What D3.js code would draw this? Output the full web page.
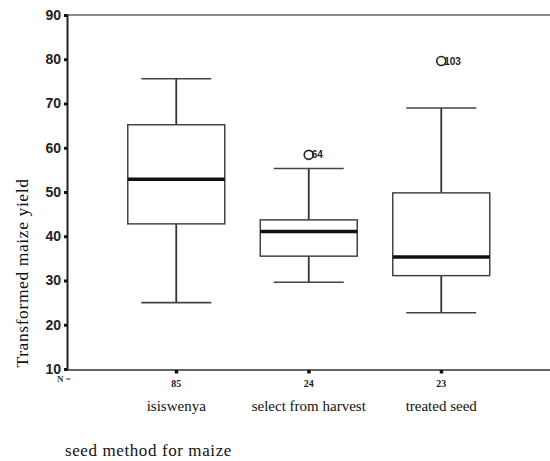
<!DOCTYPE html>
<html><head><meta charset="utf-8">
<script src="https://cdn.jsdelivr.net/npm/d3@7"></script>
<style>body{margin:0;background:#fff}svg{display:block}</style>
</head><body>
<svg id="c" width="550" height="461"></svg>
<script>
const categories = ["isiswenya", "select from harvest", "treated seed"];
const nValues = ["85", "24", "23"];
const whiskerLow = [25.0, 29.6, 22.7];
const q1 = [42.8, 35.5, 31.1];
const median = [52.9, 41.1, 35.3];
const q3 = [65.2, 43.7, 49.8];
const whiskerHigh = [75.6, 55.3, 69.0];
const outliers = [{cat: "select from harvest", value: 58.4, label: "64"},
                  {cat: "treated seed", value: 79.6, label: "103"}];
const yTicks = [10, 20, 30, 40, 50, 60, 70, 80, 90];

const SERIF = "'Liberation Serif', 'Times New Roman', 'DejaVu Serif', serif";
const SANS = "'Liberation Sans', Arial, sans-serif";

const svg = d3.select("#c");
const y = d3.scaleLinear().domain([10, 90]).range([369, 15]);
const x = d3.scaleBand().domain(categories).range([110, 507.5]).padding(0);
const bw = x.bandwidth();
const cx = c => x(c) + bw / 2;

// frame lines
svg.append("line").attr("x1", 67).attr("x2", 550).attr("y1", y(90)).attr("y2", y(90))
  .attr("stroke", "#666").attr("stroke-width", 1.5);
svg.append("line").attr("x1", 67).attr("x2", 550).attr("y1", y(10) + 1).attr("y2", y(10) + 1)
  .attr("stroke", "#333").attr("stroke-width", 1.5);

// y axis
const yAxis = svg.append("g").attr("transform", "translate(67,0)")
  .call(d3.axisLeft(y).tickValues(yTicks).tickSize(3).tickPadding(3));
yAxis.select(".domain").attr("stroke", "#222").attr("stroke-width", 2);
yAxis.selectAll(".tick line").attr("stroke", "#111").attr("stroke-width", 3);
yAxis.selectAll(".tick text").style("font-family", SANS)
  .style("font-size", "14px").style("font-weight", "bold").attr("fill", "#222");

// x tick marks
svg.append("g").selectAll("rect").data(categories).join("rect")
  .attr("x", d => cx(d) - 1.5).attr("y", y(10) + 1).attr("width", 3.5).attr("height", 3.5)
  .attr("fill", "#111");

// boxes
const g = svg.append("g");
categories.forEach((c, i) => {
  const xc = cx(c), boxW = 97, capW = 70;
  g.append("line").attr("x1", xc).attr("x2", xc).attr("y1", y(whiskerHigh[i])).attr("y2", y(q3[i]))
    .attr("stroke", "#333").attr("stroke-width", 1.8);
  g.append("line").attr("x1", xc).attr("x2", xc).attr("y1", y(q1[i])).attr("y2", y(whiskerLow[i]))
    .attr("stroke", "#333").attr("stroke-width", 1.8);
  [whiskerHigh[i], whiskerLow[i]].forEach(v => {
    g.append("line").attr("x1", xc - capW / 2).attr("x2", xc + capW / 2).attr("y1", y(v)).attr("y2", y(v))
      .attr("stroke", "#444").attr("stroke-width", 1.6);
  });
  g.append("rect").attr("x", xc - boxW / 2).attr("width", boxW)
    .attr("y", y(q3[i])).attr("height", y(q1[i]) - y(q3[i]))
    .attr("fill", "#fff").attr("stroke", "#444").attr("stroke-width", 1.5);
  g.append("line").attr("x1", xc - boxW / 2).attr("x2", xc + boxW / 2).attr("y1", y(median[i])).attr("y2", y(median[i]))
    .attr("stroke", "#111").attr("stroke-width", 3.5);
});

// outliers
outliers.forEach(o => {
  const xc = cx(o.cat);
  g.append("circle").attr("cx", xc).attr("cy", y(o.value)).attr("r", 4.5)
    .attr("fill", "none").attr("stroke", "#222").attr("stroke-width", 1.6);
  g.append("text").attr("x", xc + 3).attr("y", y(o.value) + 3.5)
    .style("font-family", SANS).style("font-size", "10px")
    .style("font-weight", "bold").attr("fill", "#222").text(o.label);
});

// N labels
svg.append("text").attr("x", 57).attr("y", 382).style("font-family", SERIF)
  .style("font-size", "9px").style("font-weight", "bold").attr("fill", "#333").text("N =");
svg.append("g").selectAll("text").data(categories).join("text")
  .attr("x", d => cx(d)).attr("y", 387).attr("text-anchor", "middle")
  .style("font-family", SERIF).style("font-size", "10px").style("font-weight", "bold")
  .attr("fill", "#222").text((d, i) => nValues[i]);

// category labels
svg.append("g").selectAll("text").data(categories).join("text")
  .attr("x", d => cx(d)).attr("y", 411).attr("text-anchor", "middle")
  .style("font-family", SERIF).style("font-size", "15px")
  .attr("fill", "#111").text(d => d);

// axis titles
svg.append("text").attr("transform", "translate(28,273) rotate(-90)").attr("text-anchor", "middle")
  .style("font-family", SERIF).style("font-size", "17.5px").style("letter-spacing", "0.6px").attr("fill", "#111")
  .text("Transformed maize yield");
svg.append("text").attr("x", 65).attr("y", 456)
  .style("font-family", SERIF).style("font-size", "17px").style("letter-spacing", "0.6px").attr("fill", "#111")
  .text("seed method for maize");
</script>
</body></html>
